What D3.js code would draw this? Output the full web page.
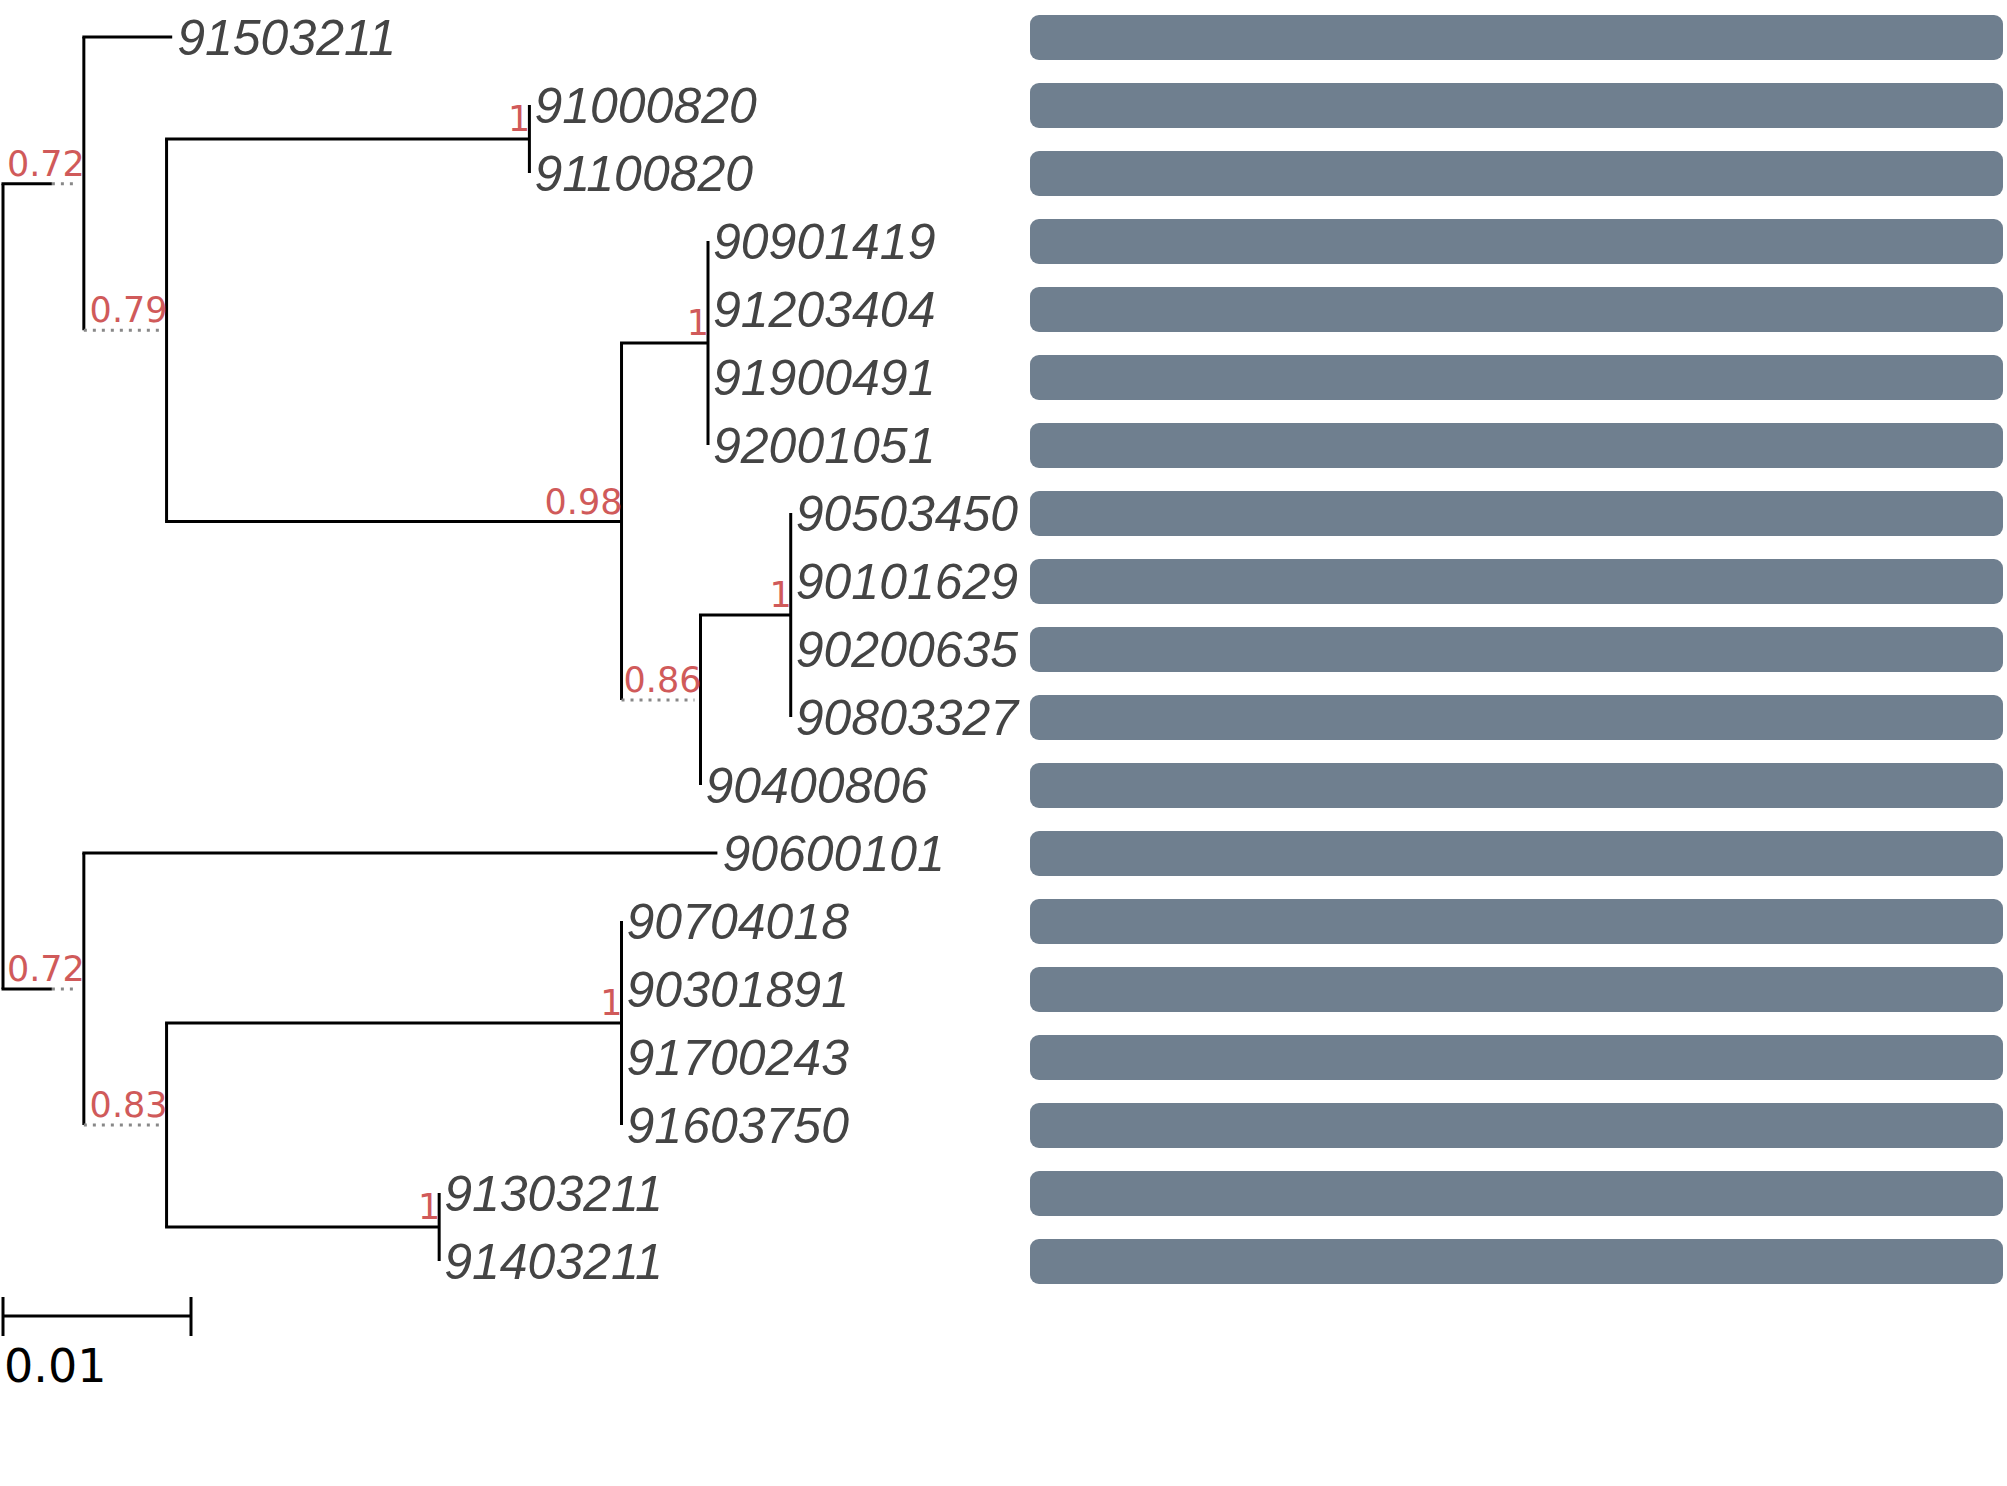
<html>
<head>
<script src="https://d3js.org/d3.v7.min.js"></script>
<style>
  body { margin: 0; background: #fff; }
</style>
</head>
<body>
<svg id="chart" width="2007" height="1486"></svg>
<script>
// leaf order, top to bottom
var leaves = ["91503211","91000820","91100820","90901419","91203404","91900491","92001051",
  "90503450","90101629","90200635","90803327","90400806","90600101",
  "90704018","90301891","91700243","91603750","91303211","91403211"];

// tree: cumulative distance from root, support, solid (where solid line ends, rest dotted)
var tree = {d: 0, children: [
  {d: 0.0043, solid: 0.0026, support: "0.72", children: [
    {name: "91503211", d: 0.0090},
    {d: 0.0087, solid: 0.0043, support: "0.79", children: [
      {d: 0.0280, support: "1", children: [
        {name: "91000820", d: 0.0280}, {name: "91100820", d: 0.0280}]},
      {d: 0.0329, support: "0.98", children: [
        {d: 0.0375, support: "1", children: [
          {name: "90901419", d: 0.0375}, {name: "91203404", d: 0.0375},
          {name: "91900491", d: 0.0375}, {name: "92001051", d: 0.0375}]},
        {d: 0.0371, solid: 0.0329, support: "0.86", children: [
          {d: 0.0419, support: "1", children: [
            {name: "90503450", d: 0.0419}, {name: "90101629", d: 0.0419},
            {name: "90200635", d: 0.0419}, {name: "90803327", d: 0.0419}]},
          {name: "90400806", d: 0.0371}]}
      ]}
    ]}
  ]},
  {d: 0.0043, solid: 0.0026, support: "0.72", children: [
    {name: "90600101", d: 0.0380},
    {d: 0.0087, solid: 0.0043, support: "0.83", children: [
      {d: 0.0329, support: "1", children: [
        {name: "90704018", d: 0.0329}, {name: "90301891", d: 0.0329},
        {name: "91700243", d: 0.0329}, {name: "91603750", d: 0.0329}]},
      {d: 0.0232, support: "1", children: [
        {name: "91303211", d: 0.0232}, {name: "91403211", d: 0.0232}]}
    ]}
  ]}
]};

var scaleLen = 0.01;

var svg = d3.select("#chart");
var x = d3.scaleLinear().domain([0, 0.01]).range([3, 191]);
var y = d3.scalePoint().domain(leaves).range([37, 37 + 68 * (leaves.length - 1)]);

var root = d3.hierarchy(tree);
root.eachAfter(function(n) {
  if (n.children) {
    n.py = (n.children[0].py + n.children[n.children.length - 1].py) / 2;
  } else {
    n.py = y(n.data.name);
  }
});

var g = svg.append("g");
root.descendants().forEach(function(n) {
  var nx = x(n.data.d);
  if (n.children) {
    g.append("line").attr("x1", nx).attr("x2", nx)
      .attr("y1", n.children[0].py).attr("y2", n.children[n.children.length - 1].py)
      .attr("stroke", "#000").attr("stroke-width", 3);
  }
  if (n.parent) {
    var px = x(n.parent.data.d);
    var sx = n.data.solid !== undefined ? x(n.data.solid) : nx;
    if (sx > px) {
      g.append("line").attr("x1", px - 1.5).attr("x2", sx).attr("y1", n.py).attr("y2", n.py)
        .attr("stroke", "#000").attr("stroke-width", 3);
    }
    if (sx < nx) {
      g.append("line").attr("x1", sx).attr("x2", nx - 6).attr("y1", n.py).attr("y2", n.py)
        .attr("stroke", "#888").attr("stroke-width", 3).attr("stroke-dasharray", "3,6");
    }
  }
  if (n.data.support) {
    g.append("text").attr("x", nx + 1).attr("y", n.py - 8)
      .attr("text-anchor", "end").attr("font-family", "DejaVu Sans")
      .attr("font-size", 35).attr("fill", "#d05a5a").text(n.data.support);
  }
  if (!n.children) {
    g.append("text").attr("x", nx + 5).attr("y", n.py).attr("dy", "0.36em")
      .attr("font-family", "Liberation Sans").attr("font-style", "italic")
      .attr("font-size", 50).attr("fill", "#444").text(n.data.name);
  }
});

// bars
svg.append("g").selectAll("rect").data(leaves).enter().append("rect")
  .attr("x", 1030).attr("width", 973)
  .attr("y", function(d) { return y(d) - 22; }).attr("height", 45)
  .attr("rx", 9).attr("fill", "#6f7f8f");

// scale bar
var sb = svg.append("g").attr("stroke", "#000").attr("stroke-width", 3);
sb.append("line").attr("x1", x(0)).attr("x2", x(scaleLen)).attr("y1", 1316).attr("y2", 1316);
sb.append("line").attr("x1", x(0)).attr("x2", x(0)).attr("y1", 1297).attr("y2", 1336);
sb.append("line").attr("x1", x(scaleLen)).attr("x2", x(scaleLen)).attr("y1", 1297).attr("y2", 1336);
svg.append("text").attr("x", 4).attr("y", 1382).attr("font-family", "DejaVu Sans")
  .attr("font-size", 46).attr("fill", "#000").text(String(scaleLen));
</script>
</body>
</html>
